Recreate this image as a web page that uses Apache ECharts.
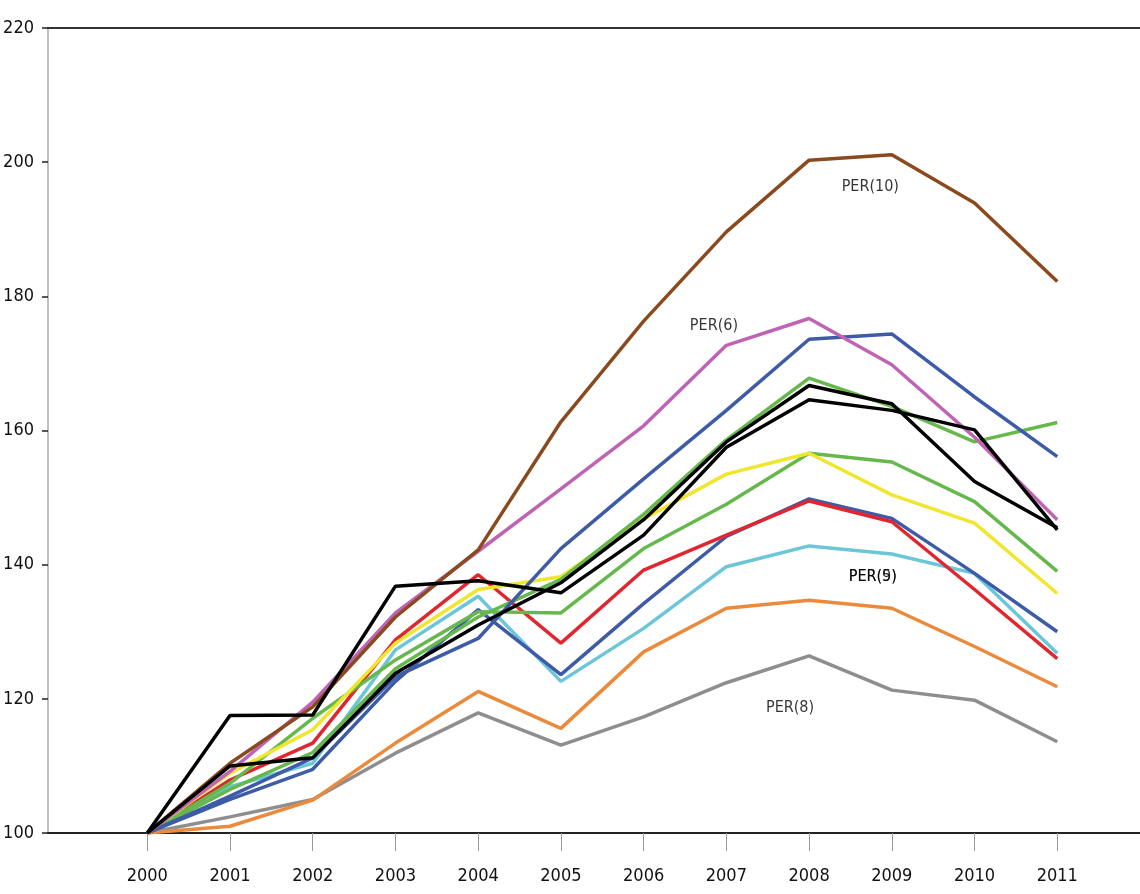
<!DOCTYPE html>
<html>
<head>
<meta charset="utf-8">
<script src="https://cdn.jsdelivr.net/npm/echarts@6/dist/echarts.min.js"></script>
<style>
html,body{margin:0;padding:0;background:#fff;}
#chart{width:1140px;height:894px;}
</style>
</head>
<body>
<div id="chart"></div>
<script>
// ---- data ----
var years = [2000, 2001, 2002, 2003, 2004, 2005, 2006, 2007, 2008, 2009, 2010, 2011];
var yTicks = [100, 120, 140, 160, 180, 200, 220];

var grayVals    = [100, 102.4, 105.0, 111.9, 117.9, 113.1, 117.3, 122.4, 126.4, 121.3, 119.8, 113.6];
var orangeVals  = [100, 101.0, 104.9, 113.4, 121.1, 115.6, 127.0, 133.5, 134.7, 133.5, 127.8, 121.8];
var cyanVals    = [100, 106.9, 110.4, 127.3, 135.3, 122.6, 130.5, 139.7, 142.8, 141.6, 138.7, 126.8];
var blueLowVals = [100, 105.0, 109.5, 122.6, 133.3, 123.6, 134.2, 144.2, 149.8, 146.9, 138.7, 130.0];
var redVals     = [100, 107.9, 113.4, 128.8, 138.5, 128.3, 139.2, 144.4, 149.5, 146.4, 136.3, 126.0];
var greenLowVals= [100, 107.4, 117.1, 125.8, 133.0, 132.8, 142.4, 149.0, 156.6, 155.3, 149.4, 139.0];
var yellowVals  = [100, 108.9, 115.4, 128.3, 136.3, 138.2, 146.8, 153.5, 156.6, 150.4, 146.2, 135.7];
var greenUpVals = [100, 106.5, 112.0, 124.5, 132.2, 137.8, 147.5, 158.6, 167.8, 163.6, 158.3, 161.2];
var blueUpVals  = [100, 105.5, 111.2, 123.3, 129.0, 142.4, 152.8, 163.0, 173.6, 174.4, 165.0, 156.1];
var magentaVals = [100, 109.2, 119.5, 132.8, 142.0, 151.3, 160.7, 172.7, 176.7, 169.8, 159.0, 146.7];
var brownVals   = [100, 110.4, 118.8, 132.2, 142.2, 161.3, 176.3, 189.6, 200.3, 201.1, 193.9, 182.2];
var blackBVals  = [100, 110.0, 111.2, 123.8, 131.0, 137.3, 146.7, 158.3, 166.7, 164.0, 152.4, 145.5];
var blackAVals  = [100, 117.5, 117.6, 136.8, 137.6, 135.8, 144.4, 157.5, 164.6, 163.0, 160.1, 145.2];

var annotationTexts = ['PER(10)', 'PER(6)', 'PER(5)', 'PER(9)', 'PER(8)'];
var annotationAt = [[2008.74, 196.3], [2006.85, 175.6], [2008.77, 138.2], [2008.77, 138.2], [2007.77, 118.6]];

// ---- build ----
var FONT = "'Liberation Sans Narrow', 'DejaVu Sans Condensed', 'Liberation Sans', sans-serif";

function pairs(vals) {
  return vals.map(function (v, i) { return [years[i], v]; });
}

var seriesDefs = [
  ['gray', grayVals, '#8e8e8e'],
  ['orange', orangeVals, '#ec8a3c'],
  ['cyan', cyanVals, '#6cc6d9'],
  ['blue low', blueLowVals, '#3d5ba6'],
  ['red', redVals, '#e0262f'],
  ['green low', greenLowVals, '#66b84c'],
  ['yellow', yellowVals, '#f0e62e'],
  ['green up', greenUpVals, '#66b84c'],
  ['blue up', blueUpVals, '#3d5ba6'],
  ['magenta', magentaVals, '#bf63b4'],
  ['brown', brownVals, '#8a4a1e'],
  ['black B', blackBVals, '#000000'],
  ['black A', blackAVals, '#000000']
];

var series = seriesDefs.map(function (d) {
  return {
    name: d[0],
    type: 'line',
    data: pairs(d[1]),
    symbol: 'none',
    smooth: false,
    lineStyle: { color: d[2], width: 3.5 },
    itemStyle: { color: d[2] },
    z: 2
  };
});

series.push({
  name: 'annotations',
  type: 'scatter',
  symbolSize: 0,
  data: annotationAt.map(function (p, i) {
    return { value: p, label: { formatter: annotationTexts[i] } };
  }),
  label: {
    show: true,
    position: 'inside',
    color: '#000',
    fontFamily: FONT,
    fontSize: 16
  },
  silent: true,
  z: 5
});

var chart = echarts.init(document.getElementById('chart'), null, { renderer: 'canvas' });
chart.setOption({
  animation: false,
  backgroundColor: '#ffffff',
  grid: { left: 48, right: 0, top: 28, bottom: 61, containLabel: false },
  xAxis: [{
    type: 'value',
    min: 1998.8,
    max: 2012,
    position: 'bottom',
    axisLine: { show: true, onZero: false, lineStyle: { color: '#222', width: 2 } },
    axisTick: { show: true, customValues: years, length: 18, lineStyle: { color: '#999', width: 1 } },
    axisLabel: {
      customValues: years,
      formatter: function (v) { return String(Math.round(v)); },
      color: '#111',
      fontFamily: FONT,
      fontSize: 18,
      margin: 34
    },
    splitLine: { show: false }
  }, {
    type: 'value',
    min: 1998.8,
    max: 2012,
    position: 'top',
    axisLine: { show: true, onZero: false, lineStyle: { color: '#333', width: 2 } },
    axisTick: { show: false },
    axisLabel: { show: false },
    splitLine: { show: false }
  }],
  yAxis: {
    type: 'value',
    min: 100,
    max: 220,
    interval: 20,
    axisLine: { show: true, onZero: false, lineStyle: { color: '#aaa', width: 1.5 } },
    axisTick: { show: true, length: 6, lineStyle: { color: '#222', width: 1.5 } },
    axisLabel: {
      customValues: yTicks,
      color: '#111',
      fontFamily: FONT,
      fontSize: 18,
      margin: 14
    },
    splitLine: { show: false }
  },
  series: series
});
</script>
</body>
</html>
